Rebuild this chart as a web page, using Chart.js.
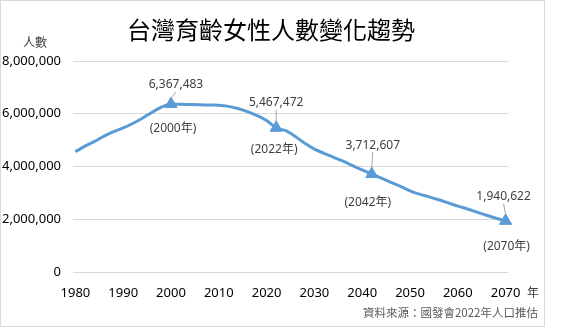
<!DOCTYPE html>
<html>
<head>
<meta charset="utf-8">
<script src="https://cdn.jsdelivr.net/npm/chart.js@4.4.0/dist/chart.umd.min.js"></script>
<style>
  body { margin: 0; background: #fff; }
  #card {
    position: absolute; left: 0; top: 0;
    width: 545px; height: 327px;
    box-sizing: border-box;
    border: 1px solid #d9d9d9;
  }
  #wrap { position: absolute; left: 0; top: 0; width: 576px; height: 334px; }
</style>
</head>
<body>
<div id="card"></div>
<div id="wrap"><canvas id="chart" width="576" height="334"></canvas></div>
<script>
// data
const years = [1980, 1982, 1984, 1986, 1988, 1990, 1992, 1994, 1996, 1998,
  2000, 2002, 2004, 2006, 2008, 2010, 2012, 2014, 2016, 2018,
  2020, 2022, 2024, 2026, 2028, 2030, 2032, 2034, 2036, 2038,
  2040, 2042, 2044, 2046, 2048, 2050, 2052, 2054, 2056, 2058,
  2060, 2062, 2064, 2066, 2068, 2070];
const women = [4560000, 4770000, 4950000, 5150000, 5320000, 5460000, 5630000, 5830000, 6050000, 6250000,
  6367483, 6360000, 6350000, 6340000, 6330000, 6320000, 6280000, 6200000, 6080000, 5930000,
  5740000, 5467472, 5360000, 5140000, 4880000, 4660000, 4500000, 4350000, 4200000, 4030000,
  3870000, 3712607, 3560000, 3400000, 3250000, 3080000, 2950000, 2850000, 2740000, 2620000,
  2500000, 2390000, 2270000, 2150000, 2040000, 1940622];

const markYears = [2000, 2022, 2042, 2070];
const markValues = [6367483, 5467472, 3712607, 1940622];

const tickYears = [1980, 1990, 2000, 2010, 2020, 2030, 2040, 2050, 2060, 2070];
const yTicks = [0, 2000000, 4000000, 6000000, 8000000];

// label placement around each marker (px)
const valueDx = [5, 0, 1, -2];
const valueDy = [-19, -25, -29, -24];
const yearDx = [2, -2, -4, 1];
const yearDy = [25, 22, 28, 26];

const FONT = '"Noto Sans", "Noto Sans CJK TC", sans-serif';
const BLUE = '#5B9BD5';

const fmt = v => v.toLocaleString('en-US');

// texts & annotations
const decor = {
  id: 'decor',
  afterDatasetsDraw(chart) {
    const ctx = chart.ctx;
    const xs = chart.scales.x, ys = chart.scales.y;
    ctx.save();

    markYears.forEach((yr, i) => {
      const px = xs.getPixelForValue(yr);
      const py = ys.getPixelForValue(markValues[i]);
      const tx = px + valueDx[i], ty = py + valueDy[i];

      ctx.strokeStyle = '#a6a6a6';
      ctx.lineWidth = 1;
      ctx.beginPath();
      ctx.moveTo(tx, ty + 7);
      ctx.lineTo(px, py - 6);
      ctx.stroke();

      ctx.fillStyle = '#404040';
      ctx.font = '12px ' + FONT;
      ctx.textAlign = 'center';
      ctx.textBaseline = 'middle';
      ctx.fillText(fmt(markValues[i]), tx, ty);
      ctx.fillText('(' + yr + '年)', px + yearDx[i], py + yearDy[i]);
    });

    // title
    ctx.fillStyle = '#000';
    ctx.font = '24px "Noto Sans CJK TC", sans-serif';
    ctx.textAlign = 'center';
    ctx.fillText('台灣育齡女性人數變化趨勢', 271, 30);

    ctx.fillStyle = '#404040';
    ctx.font = '12px "Noto Sans CJK TC", sans-serif';
    ctx.fillText('人數', 35, 42);
    ctx.fillText('年', 533, 292);

    ctx.fillStyle = '#595959';
    ctx.font = '11.5px "Noto Sans CJK TC", sans-serif';
    ctx.textAlign = 'right';
    ctx.fillText('資料來源：國發會2022年人口推估', 538, 313);
    ctx.restore();
  }
};

new Chart(document.getElementById('chart'), {
  type: 'line',
  data: {
    datasets: [
      {
        data: years.map((y, i) => ({ x: y, y: women[i] })),
        borderColor: BLUE,
        borderWidth: 3,
        pointRadius: 0,
        tension: 0.4,
        cubicInterpolationMode: 'monotone',
        clip: false
      },
      {
        data: markYears.map((y, i) => ({ x: y, y: markValues[i] })),
        showLine: false,
        pointStyle: 'triangle',
        pointRadius: 7,
        backgroundColor: BLUE,
        borderColor: BLUE,
        clip: false
      }
    ]
  },
  options: {
    responsive: false,
    animation: false,
    layout: { padding: { left: 0, right: 68, top: 61, bottom: 32 } },
    plugins: { legend: { display: false }, tooltip: { enabled: false } },
    scales: {
      x: {
        type: 'linear',
        min: 1979.5,
        max: 2070.5,
        afterBuildTicks: s => { s.ticks = tickYears.map(v => ({ value: v })); },
        afterFit: s => { s.height = 30; },
        grid: { display: false },
        border: { display: false },
        ticks: {
          callback: v => String(v),
          color: '#000',
          font: { family: FONT, size: 13 },
          padding: 5,
          maxRotation: 0,
          autoSkip: false
        }
      },
      y: {
        min: 0,
        max: 8000000,
        afterBuildTicks: s => { s.ticks = yTicks.map(v => ({ value: v })); },
        afterFit: s => { s.width = 73; },
        grid: { color: '#d9d9d9', drawTicks: false },
        border: { display: false },
        ticks: {
          callback: v => fmt(v),
          color: '#000',
          font: { family: FONT, size: 13 },
          padding: 12
        }
      }
    }
  },
  plugins: [decor]
});
</script>
</body>
</html>
